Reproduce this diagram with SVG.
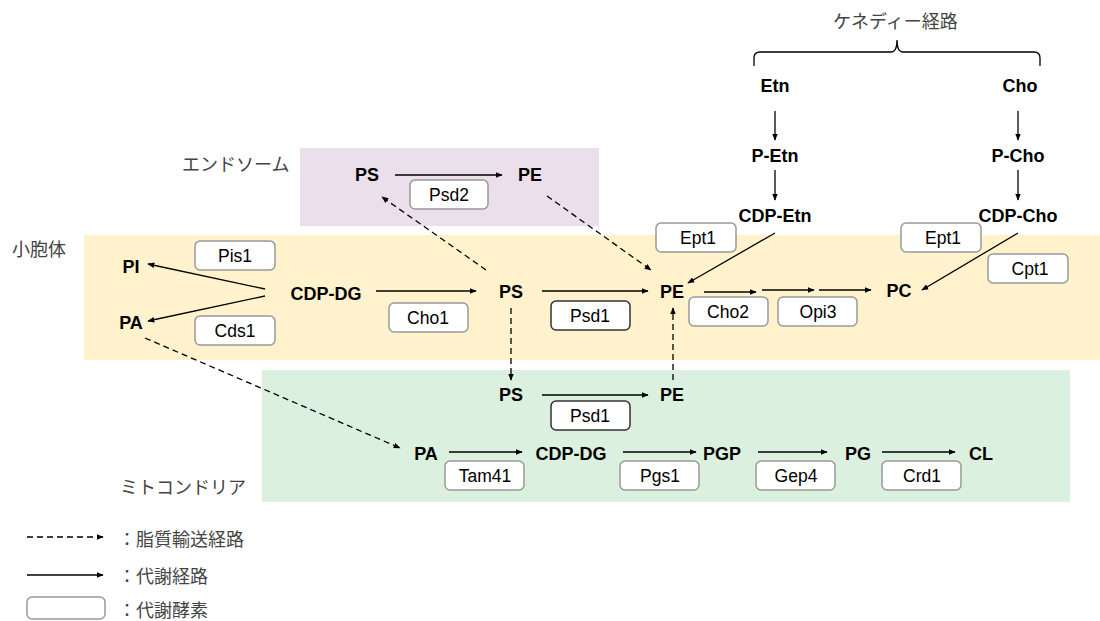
<svg xmlns="http://www.w3.org/2000/svg" width="1100" height="621" viewBox="0 0 1100 621">
<defs>
<marker id="ah" viewBox="0 0 10 10" refX="9" refY="5" markerWidth="7" markerHeight="7" markerUnits="userSpaceOnUse" orient="auto"><path d="M0,1 L10,5 L0,9 z" fill="#000"/></marker>
<style>
.n{font-family:"Liberation Sans",Arial,sans-serif;font-weight:bold;font-size:18px;fill:#000;text-anchor:middle;dominant-baseline:central}
.e rect{fill:#fff;stroke:#999;stroke-width:1.5}
.e.dk rect{stroke:#333}
.e text{font-family:"Liberation Sans",Arial,sans-serif;font-size:17.5px;fill:#000;text-anchor:middle;dominant-baseline:central}
.jp{font-family:"Noto Sans CJK JP","Liberation Sans",sans-serif;font-size:18px;fill:#444;dominant-baseline:central}
.s{stroke:#000;stroke-width:1.3;fill:none;marker-end:url(#ah)}
.d{stroke:#000;stroke-width:1.3;fill:none;stroke-dasharray:6,4;marker-end:url(#ah)}
</style>
</defs>
<g id="regions">
<rect x="300" y="148" width="299" height="78" fill="#EADFEA"/>
<rect x="84" y="235" width="1016" height="125" fill="#FFF2CC"/>
<rect x="262" y="370" width="808" height="132" fill="#DCF0DF"/>
</g>
<g id="labels">
<text class="jp" x="182" y="163">エンドソーム</text>
<text class="jp" x="12" y="248">小胞体</text>
<text class="jp" x="120" y="486">ミトコンドリア</text>
<text class="jp" x="833" y="20">ケネディー経路</text>
<path d="M754,66 V58 Q754,52 760,52 H891 Q897,52 897,40 Q897,52 903,52 H1034 Q1040,52 1040,58 V66" fill="none" stroke="#000" stroke-width="1.3"/>
</g>
<g id="connectors">
<line class="s" x1="395" y1="175" x2="502" y2="175"/>
<line class="s" x1="265" y1="289" x2="148" y2="264"/>
<line class="s" x1="265" y1="296" x2="148" y2="321"/>
<line class="s" x1="376" y1="291" x2="476" y2="291"/>
<line class="s" x1="542" y1="291" x2="648" y2="291"/>
<line class="s" x1="704" y1="292" x2="756" y2="292"/>
<line class="s" x1="762" y1="290" x2="814" y2="290"/>
<line class="s" x1="819" y1="290" x2="871" y2="290"/>
<line class="s" x1="775" y1="233" x2="688" y2="283"/>
<line class="s" x1="1018" y1="233" x2="922" y2="290"/>
<line class="s" x1="775" y1="111" x2="775" y2="140"/>
<line class="s" x1="775" y1="170" x2="775" y2="200"/>
<line class="s" x1="1018" y1="111" x2="1018" y2="140"/>
<line class="s" x1="1018" y1="170" x2="1018" y2="200"/>
<line class="s" x1="542" y1="395" x2="648" y2="395"/>
<line class="s" x1="449" y1="452" x2="522" y2="452"/>
<line class="s" x1="623" y1="452" x2="696" y2="452"/>
<line class="s" x1="758" y1="452" x2="827" y2="452"/>
<line class="s" x1="882" y1="452" x2="955" y2="452"/>
<line class="d" x1="486" y1="270" x2="382" y2="197"/>
<line class="d" x1="547" y1="196" x2="651" y2="270"/>
<line class="d" x1="511" y1="308" x2="511" y2="380"/>
<line class="d" x1="673" y1="380" x2="673" y2="308"/>
<line class="d" x1="145" y1="338" x2="400" y2="448"/>
</g>
<g id="n-ps-endo"><text class="n" x="367" y="175">PS</text></g>
<g id="n-pe-endo"><text class="n" x="530" y="175">PE</text></g>
<g id="e-psd2" class="e"><rect x="410" y="180" width="78" height="29" rx="5"/><text x="449" y="195">Psd2</text></g>
<g id="n-pi"><text class="n" x="131" y="267">PI</text></g>
<g id="n-pa"><text class="n" x="131" y="323">PA</text></g>
<g id="e-pis1" class="e"><rect x="195" y="241" width="80" height="29" rx="5"/><text x="235" y="256">Pis1</text></g>
<g id="e-cds1" class="e"><rect x="195" y="316" width="80" height="29" rx="5"/><text x="235" y="331">Cds1</text></g>
<g id="n-cdpdg"><text class="n" x="326" y="294">CDP-DG</text></g>
<g id="e-cho1" class="e"><rect x="389" y="303" width="79" height="29" rx="5"/><text x="428" y="318">Cho1</text></g>
<g id="n-ps-er"><text class="n" x="511" y="292">PS</text></g>
<g id="e-psd1-er" class="e dk"><rect x="551" y="301" width="79" height="29" rx="5"/><text x="590" y="316">Psd1</text></g>
<g id="n-pe-er"><text class="n" x="672" y="292">PE</text></g>
<g id="e-cho2" class="e"><rect x="689" y="297" width="79" height="29" rx="5"/><text x="728" y="312">Cho2</text></g>
<g id="e-opi3" class="e"><rect x="778" y="297" width="79" height="29" rx="5"/><text x="818" y="312">Opi3</text></g>
<g id="n-pc"><text class="n" x="899" y="291">PC</text></g>
<g id="e-ept1a" class="e"><rect x="656" y="223" width="80" height="29" rx="5"/><text x="698" y="238">Ept1</text></g>
<g id="e-ept1b" class="e"><rect x="901" y="223" width="80" height="29" rx="5"/><text x="943" y="238">Ept1</text></g>
<g id="e-cpt1" class="e"><rect x="988" y="254" width="80" height="29" rx="5"/><text x="1030" y="269">Cpt1</text></g>
<g id="n-etn"><text class="n" x="775" y="86">Etn</text></g>
<g id="n-petn"><text class="n" x="775" y="156">P-Etn</text></g>
<g id="n-cdpetn"><text class="n" x="775" y="216">CDP-Etn</text></g>
<g id="n-cho"><text class="n" x="1020" y="86">Cho</text></g>
<g id="n-pcho"><text class="n" x="1018" y="156">P-Cho</text></g>
<g id="n-cdpcho"><text class="n" x="1018" y="216">CDP-Cho</text></g>
<g id="n-ps-mito"><text class="n" x="511" y="395">PS</text></g>
<g id="n-pe-mito"><text class="n" x="672" y="395">PE</text></g>
<g id="e-psd1-mito" class="e dk"><rect x="551" y="401" width="79" height="29" rx="5"/><text x="590" y="416">Psd1</text></g>
<g id="n-pa-mito"><text class="n" x="426" y="454">PA</text></g>
<g id="n-cdpdg-mito"><text class="n" x="571" y="454">CDP-DG</text></g>
<g id="n-pgp"><text class="n" x="722" y="454">PGP</text></g>
<g id="n-pg"><text class="n" x="858" y="454">PG</text></g>
<g id="n-cl"><text class="n" x="981" y="454">CL</text></g>
<g id="e-tam41" class="e"><rect x="445" y="461" width="79" height="29" rx="5"/><text x="485" y="476">Tam41</text></g>
<g id="e-pgs1" class="e"><rect x="620" y="461" width="79" height="29" rx="5"/><text x="660" y="476">Pgs1</text></g>
<g id="e-gep4" class="e"><rect x="756" y="461" width="79" height="29" rx="5"/><text x="796" y="476">Gep4</text></g>
<g id="e-crd1" class="e"><rect x="882" y="461" width="79" height="29" rx="5"/><text x="922" y="476">Crd1</text></g>
<g id="legend">
<line class="d" x1="27" y1="537" x2="103" y2="537"/>
<line class="s" x1="27" y1="575" x2="103" y2="575"/>
<g class="e"><rect x="27" y="597" width="78" height="22" rx="5"/></g>
<text class="jp" x="118" y="538">：脂質輸送経路</text>
<text class="jp" x="118" y="575">：代謝経路</text>
<text class="jp" x="118" y="609">：代謝酵素</text>
</g>
</svg>
